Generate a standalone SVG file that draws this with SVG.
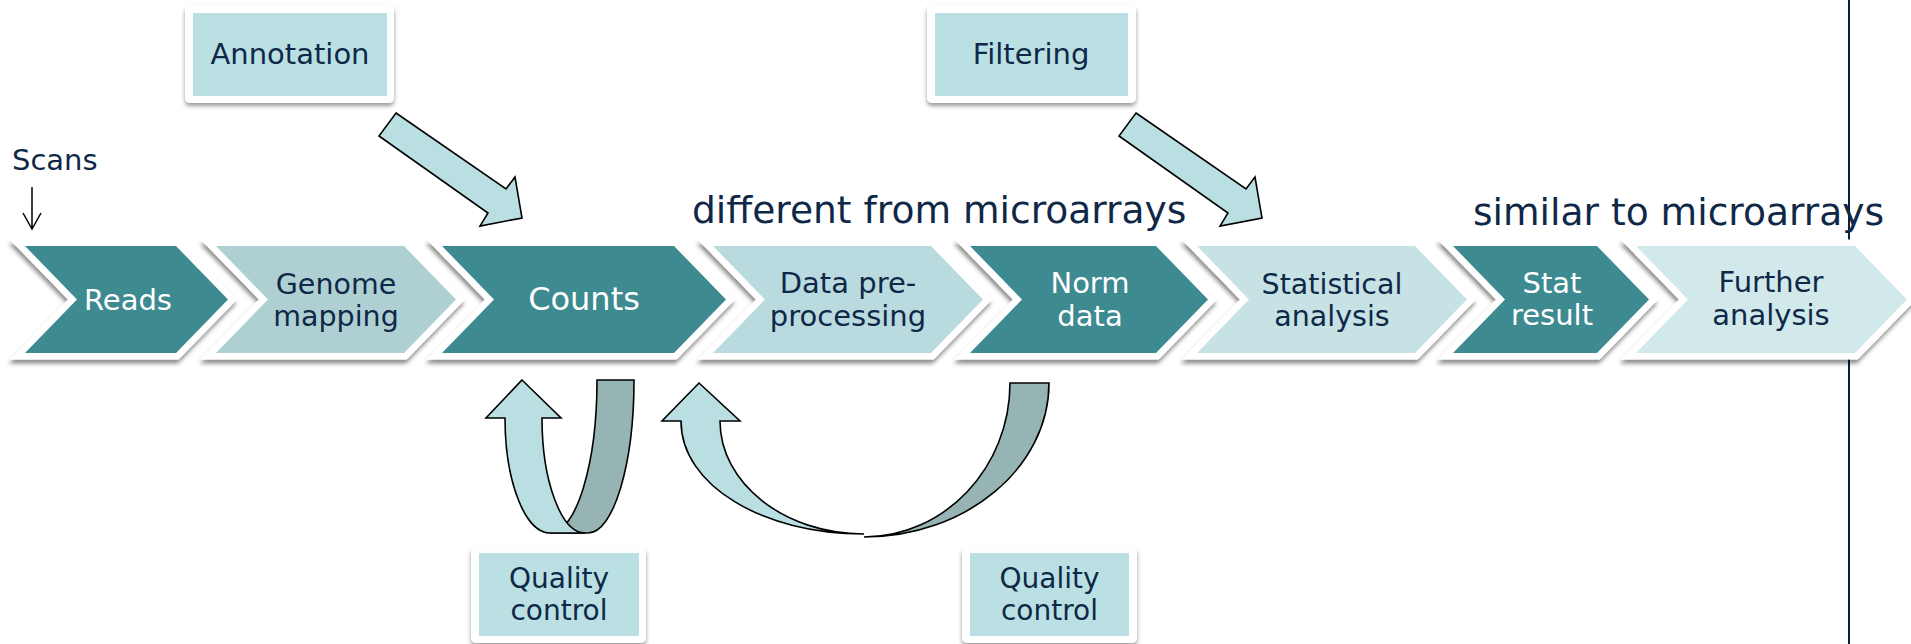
<svg xmlns="http://www.w3.org/2000/svg" width="1911" height="644" viewBox="0 0 1911 644">
<defs>
<filter id="sh" x="-10%" y="-20%" width="120%" height="150%">
<feDropShadow dx="-1" dy="4" stdDeviation="2.2" flood-color="#000" flood-opacity="0.45"/>
</filter>
<filter id="bsh" x="-10%" y="-20%" width="120%" height="150%">
<feDropShadow dx="0" dy="3" stdDeviation="2" flood-color="#000" flood-opacity="0.4"/>
</filter>
</defs>
<style>
.chev{stroke:#ffffff;stroke-width:13;stroke-linejoin:miter;paint-order:stroke}
.dk{fill:#3D8A91}
.t{font-family:"DejaVu Sans","Liberation Sans",sans-serif;text-anchor:middle}
.w{fill:#ffffff}
.n{fill:#0F2847}
.title{font-family:"DejaVu Sans","Liberation Sans",sans-serif;font-size:37.6px;fill:#0F2847}
.boxo{fill:#ffffff}
.boxi{fill:#BBE0E3}
.blk{stroke:#000;stroke-width:1.6;stroke-linejoin:miter}
.lt{fill:#BADFE2}
.dkb{fill:#97B4B5}
</style>

<line id="divider" x1="1849" y1="0" x2="1849" y2="644" stroke="#0B1F44" stroke-width="2"/>

<g id="chevrons" filter="url(#sh)">
<g id="reads"><polygon class="chev dk" points="25,246 176,246 228,299.5 176,353 25,353 77,299.5"/></g>
<g id="genome"><polygon class="chev" fill="#AFD0D3" points="216,246 404,246 456,299.5 404,353 216,353 268,299.5"/></g>
<g id="counts"><polygon class="chev dk" points="442,246 674,246 726,299.5 674,353 442,353 494,299.5"/></g>
<g id="datapre"><polygon class="chev" fill="#B9DBDF" points="713,246 931,246 983,299.5 931,353 713,353 765,299.5"/></g>
<g id="norm"><polygon class="chev dk" points="970,246 1156,246 1208,299.5 1156,353 970,353 1022,299.5"/></g>
<g id="statistical"><polygon class="chev" fill="#C6E2E5" points="1197,246 1415,246 1467,299.5 1415,353 1197,353 1249,299.5"/></g>
<g id="statresult"><polygon class="chev dk" points="1453,246 1597,246 1649,299.5 1597,353 1453,353 1505,299.5"/></g>
<g id="further"><polygon class="chev" fill="#D2E9EB" points="1636,246 1855,246 1907,299.5 1855,353 1636,353 1688,299.5"/></g>
</g>

<g id="chevron-labels">
<text class="t w" x="128" y="310" font-size="29">Reads</text>
<text class="t n" x="336" y="294" font-size="28.5">Genome</text>
<text class="t n" x="336" y="326" font-size="28.5">mapping</text>
<text class="t w" x="584" y="310" font-size="32">Counts</text>
<text class="t n" x="848" y="293" font-size="29">Data pre-</text>
<text class="t n" x="848" y="326" font-size="29">processing</text>
<text class="t w" x="1090" y="293" font-size="29">Norm</text>
<text class="t w" x="1090" y="326" font-size="29">data</text>
<text class="t n" x="1332" y="294" font-size="28.5">Statistical</text>
<text class="t n" x="1332" y="326" font-size="28.5">analysis</text>
<text class="t w" x="1552" y="293" font-size="29">Stat</text>
<text class="t w" x="1552" y="325" font-size="29">result</text>
<text class="t n" x="1771" y="292" font-size="29">Further</text>
<text class="t n" x="1771" y="325" font-size="29">analysis</text>
</g>

<g id="titles">
<text class="title" x="692" y="223">different from microarrays</text>
<text class="title" x="1473" y="225">similar to microarrays</text>
</g>

<g id="scans">
<text x="12" y="170" font-family="DejaVu Sans, Liberation Sans, sans-serif" font-size="29" fill="#0F2847">Scans</text>
</g>

<g id="annotation">
<rect class="boxo" x="185" y="5" width="209" height="98" rx="5" filter="url(#bsh)"/>
<rect class="boxi" x="193" y="13" width="194" height="83"/>
<text class="t n" x="290" y="64" font-size="29">Annotation</text>
</g>

<g id="filtering">
<rect class="boxo" x="927" y="5" width="209" height="98" rx="5" filter="url(#bsh)"/>
<rect class="boxi" x="935" y="13" width="193" height="83"/>
<text class="t n" x="1031" y="64" font-size="29">Filtering</text>
</g>

<g id="qc1">
<rect class="boxo" x="471" y="547" width="175" height="96" rx="5" filter="url(#bsh)"/>
<rect class="boxi" x="479" y="553" width="160" height="83"/>
<text class="t n" x="559" y="588" font-size="28">Quality</text>
<text class="t n" x="559" y="620" font-size="28">control</text>
</g>

<g id="qc2">
<rect class="boxo" x="962" y="547" width="175" height="96" rx="5" filter="url(#bsh)"/>
<rect class="boxi" x="970" y="553" width="159" height="83"/>
<text class="t n" x="1049.5" y="588" font-size="28">Quality</text>
<text class="t n" x="1049.5" y="620" font-size="28">control</text>
</g>

<g id="connectors">
<path d="M32,187 L32,229 M23,213 L32,229 L41,213" fill="none" stroke="#000" stroke-width="1.5"/>
<polygon class="blk lt" points="396,113 506,189 515,177 522,218 480,226 488,213 379,136"/>
<polygon class="blk lt" points="1136,113 1246,189 1255,177 1262,218 1220,226 1228,213 1119,136"/>

<path class="blk dkb" d="M597,380 L634,380 C634,464.5 613.4,533 588,533 L550,533 C576,533 597,464.5 597,380 Z"/>
<path class="blk lt" d="M522,380 L561,418 L542,418 C542,481.5 561.3,533 585,533 L550,533 C525.1,533 505,481.5 505,418 L486,418 Z"/>

<path class="blk dkb" d="M1010,383 L1049,383 C1049,467.5 966.2,537 864,537 C944.6,537 1010,467.5 1010,383 Z"/>
<path class="blk lt" d="M699,383 L740,421 L720,421 C720,483.4 784.5,534 864,534 C763,534 681,485.5 681,421 L662,421 Z"/>
</g>
</svg>
